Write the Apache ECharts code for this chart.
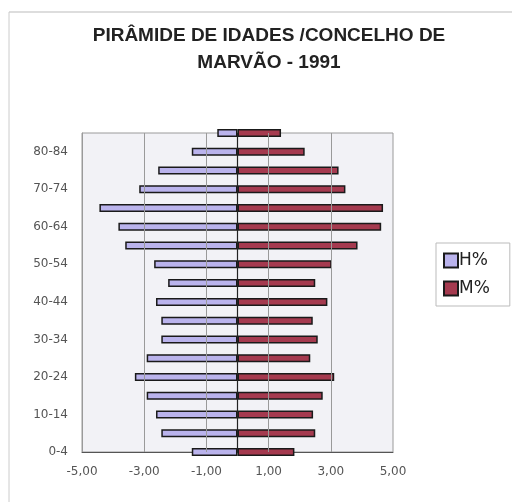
<!DOCTYPE html>
<html>
<head>
<meta charset="utf-8">
<script src="https://cdn.jsdelivr.net/npm/echarts@6/dist/echarts.min.js"></script>
<style>html,body{margin:0;padding:0;background:#fff;}#c{width:513px;height:502px;}</style>
</head>
<body>
<div id="c"></div>
<script>
var categories = ['0-4','5-9','10-14','15-19','20-24','25-29','30-34','35-39','40-44','45-49','50-54','55-59','60-64','65-69','70-74','75-79','80-84','85+'];
var menH = [-1.47,-2.45,-2.62,-2.92,-3.30,-2.92,-2.45,-2.45,-2.62,-2.23,-2.68,-3.61,-3.83,-4.44,-3.16,-2.55,-1.47,-0.65];
var womenM = [1.83,2.50,2.43,2.74,3.11,2.34,2.58,2.42,2.89,2.50,3.03,3.86,4.62,4.68,3.47,3.25,2.16,1.40];
var xTickLabels = ['-5,00','-3,00','-1,00','1,00','3,00','5,00'];
var xTickValues = [-5,-3,-1,1,3,5];
var gridValues = [-3,-1,1,3];

var chart = echarts.init(document.getElementById('c'));
var font = '"Liberation Sans", Arial, sans-serif';
var tickFont = '"DejaVu Sans", sans-serif';
var markLines = gridValues.map(function(v){return {xAxis: v, lineStyle:{color:'#9a9a9a', width:1, type:'solid'}};});
markLines.push({xAxis: 0, lineStyle:{color:'#222', width:1.2, type:'solid'}});

chart.setOption({
  animation: false,
  textStyle: {fontFamily: font},
  title: {
    text: 'PIRÂMIDE DE IDADES /CONCELHO DE\nMARVÃO - 1991',
    left: 264, top: 17, textAlign: 'center',
    textStyle: {fontSize: 19, fontWeight: 'bold', color: '#222', lineHeight: 27, fontFamily: font}
  },
  graphic: [
    {type:'line', shape:{x1:9, y1:12, x2:512, y2:12}, style:{stroke:'#bbb', lineWidth:1}},
    {type:'line', shape:{x1:9, y1:12, x2:9, y2:502}, style:{stroke:'#ccc', lineWidth:1}}
  ],
  legend: {
    orient: 'vertical',
    left: 436, top: 243,
    itemWidth: 14, itemHeight: 14, itemGap: 11,
    padding: [9, 20, 9, 7],
    borderColor: '#bbb', borderWidth: 1,
    icon: 'rect',
    textStyle: {fontSize: 17, color: '#222', fontFamily: tickFont, padding: [0,0,0,-4]},
    data: ['H%', 'M%']
  },
  grid: {
    left: 82, right: 120, top: 133, bottom: 50,
    show: true, backgroundColor: '#f2f2f6', borderColor: '#9a9a9a', borderWidth: 1
  },
  xAxis: {
    type: 'value', min: -5, max: 5, interval: 1,
    axisLine: {show: true, lineStyle: {color: '#555'}},
    axisTick: {show: false},
    splitLine: {show: false},
    axisLabel: {
      margin: 14, fontSize: 12, color: '#555', fontFamily: tickFont,
      formatter: function(v){ var i = xTickValues.indexOf(v); return i >= 0 ? xTickLabels[i] : ''; }
    }
  },
  yAxis: {
    type: 'category', data: categories, boundaryGap: false,
    axisLine: {show: true, onZero: false, lineStyle: {color: '#9a9a9a'}},
    axisTick: {show: false},
    axisLabel: {interval: 1, fontSize: 12, color: '#555', margin: 14, fontFamily: tickFont}
  },
  series: [
    {
      name: 'H%', type: 'bar', data: menH, barWidth: 8, barGap: '-100%', clip: false,
      itemStyle: {color: '#bab3ec', borderColor: '#1a1a1a', borderWidth: 1.5},
      markLine: {silent: true, symbol: 'none', label: {show: false}, data: markLines}
    },
    {
      name: 'M%', type: 'bar', data: womenM, barWidth: 8, barGap: '-100%', clip: false,
      itemStyle: {color: '#a53a4f', borderColor: '#1a1a1a', borderWidth: 1.5}
    }
  ]
});
</script>
</body>
</html>
